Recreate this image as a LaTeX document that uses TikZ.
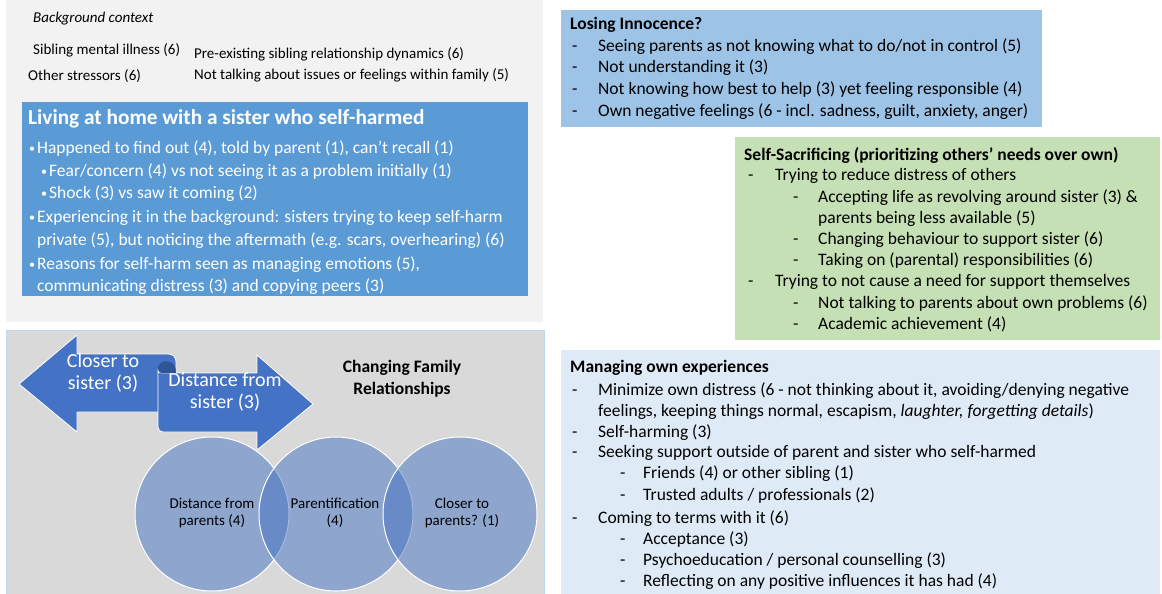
\documentclass[tikz,border=0pt]{standalone}
\usepackage{fontspec}
\setmainfont{Carlito}
\definecolor{panelTop}{HTML}{F2F2F2}
\definecolor{panelLow}{HTML}{D9D9D9}
\definecolor{panelEdge}{HTML}{BDD7EE}
\definecolor{homeBlue}{HTML}{5B9BD5}
\definecolor{loseBlue}{HTML}{9DC3E6}
\definecolor{sacGreen}{HTML}{C5E0B4}
\definecolor{manBlue}{HTML}{DEEBF7}
\definecolor{arrowBlue}{HTML}{4472C4}
\definecolor{foldBlue}{HTML}{2F5597}
\newcommand{\dsh}[1]{\makebox[#1][l]{-}}
\newcommand{\bul}{\makebox[8pt][l]{\raisebox{0.5pt}{\fontsize{12}{12}\selectfont\textbullet}}}
\begin{document}
\begin{tikzpicture}[x=1pt,y=-1pt,
  body/.style={anchor=base west, inner sep=0pt, font=\fontsize{17.5}{20}\selectfont},
  head/.style={anchor=base west, inner sep=0pt, font=\bfseries\fontsize{17.5}{20}\selectfont},
  ctx/.style={anchor=base west, inner sep=0pt, font=\fontsize{15}{18}\selectfont},
  hometxt/.style={body, text=white},
  arrowtxt/.style={align=center, text=white, inner sep=0pt, font=\fontsize{20}{22}\selectfont},
  venn/.style={circle, minimum size=154pt, inner sep=0pt, fill=arrowBlue, fill opacity=0.5, draw=white, draw opacity=1, line width=1pt},
  venntxt/.style={align=center, inner sep=0pt, font=\fontsize{15}{17}\selectfont},
  arrowshape/.style={fill=arrowBlue, draw=white, line width=0.8pt, line join=round}
]
\useasboundingbox (0,0) rectangle (1162,594);
\fill[white] (0,0) rectangle (1162,594);

% ---------- background context panel ----------
\fill[panelTop] (6,0) rectangle (543,322);
\node[anchor=base west, inner sep=0pt, font=\itshape\fontsize{15}{18}\selectfont] (bgc) at (33,23) {Background context};
\node[ctx] (bg1) at (33,55) {Sibling mental illness (6)};
\node[ctx] (bg2) at (194,59) {Pre-existing sibling relationship dynamics (6)};
\node[ctx] (bg3) at (28,81) {Other stressors (6)};
\node[ctx] (bg4) at (194,80) {Not talking about issues or feelings within family (5)};

% ---------- living at home box ----------
\fill[homeBlue] (22,102) rectangle (528,296);
\node[anchor=base west, inner sep=0pt, text=white, font=\bfseries\fontsize{21.3}{24}\selectfont] (hometitle) at (28,124) {Living at home with a sister who self-harmed};
\node[hometxt] (h1) at (29,153) {\bul Happened to find out (4), told by parent (1), can’t recall (1)};
\node[hometxt] (h2) at (41,176) {\bul Fear/concern (4) vs not seeing it as a problem initially (1)};
\node[hometxt] (h3) at (41,198) {\bul Shock (3) vs saw it coming (2)};
\node[hometxt] (h4) at (29,222) {\bul Experiencing it in the background: sisters trying to keep self-harm};
\node[hometxt] (h5) at (37,245) {private (5), but noticing the aftermath (e.g. scars, overhearing) (6)};
\node[hometxt] (h6) at (29,269) {\bul Reasons for self-harm seen as managing emotions (5),};
\node[hometxt] (h7) at (37,291) {communicating distress (3) and copying peers (3)};

% ---------- changing family relationships panel ----------
\filldraw[fill=panelLow, draw=panelEdge, line width=1pt] (6,330) rectangle (544,594);

\node[venn] (c1) at (212,514) {};
\node[venn] (c2) at (336,514) {};
\node[venn] (c3) at (460,514) {};
\node[venntxt] (t1) at (212,513) {Distance from\\parents (4)};
\node[venntxt] (t2) at (335,513) {Parentification\\(4)};
\node[venntxt] (t3) at (462,513) {Closer to\\parents? (1)};

% opposing ribbon arrows
\draw[arrowshape] (19,384) -- (77,335) -- (77,354) -- (168,354)
  .. controls (173,354) and (176,357) .. (176,362) -- (176,412)
  -- (77,412) -- (77,432) -- cycle;
\draw[arrowshape] (162,373) -- (257,373) -- (257,355) -- (313,404) -- (257,450)
  -- (257,432) -- (163,432) .. controls (160,432) and (158,430) .. (158,427)
  -- (158,369) .. controls (158,373) and (160,373) .. (162,373);
\fill[foldBlue] (158,369) .. controls (158,362) and (164,360) .. (170,362)
  .. controls (173,363) and (176,366) .. (176,373) -- (162,373)
  .. controls (160,373) and (158,372) .. (158,369) -- cycle;
\node[arrowtxt] (a1) at (103,373) {Closer to\\sister (3)};
\node[arrowtxt] (a2) at (225,392) {Distance from\\sister (3)};
\node[align=center, inner sep=0pt, font=\bfseries\fontsize{17.5}{22}\selectfont] (cfr) at (402,379) {Changing Family\\Relationships};

% ---------- losing innocence ----------
\fill[loseBlue] (561,10) rectangle (1042,127);
\node[head] (li0) at (570,30) {Losing Innocence?};
\node[body] (li1) at (572,52) {\dsh{26pt}Seeing parents as not knowing what to do/not in control (5)};
\node[body] (li2) at (572,73) {\dsh{26pt}Not understanding it (3)};
\node[body] (li3) at (572,95) {\dsh{26pt}Not knowing how best to help (3) yet feeling responsible (4)};
\node[body] (li4) at (572,116) {\dsh{26pt}Own negative feelings (6 - incl. sadness, guilt, anxiety, anger)};

% ---------- self-sacrificing ----------
\fill[sacGreen] (735,137) rectangle (1160,340);
\node[head] (ss0) at (744,160) {Self-Sacrificing (prioritizing others’ needs over own)};
\node[body] (ss1) at (748,180) {\dsh{27pt}Trying to reduce distress of others};
\node[body] (ss2) at (793,202) {\dsh{25pt}Accepting life as revolving around sister (3) \&};
\node[body] (ss3) at (818,223) {parents being less available (5)};
\node[body] (ss4) at (793,244) {\dsh{25pt}Changing behaviour to support sister (6)};
\node[body] (ss5) at (793,265) {\dsh{25pt}Taking on (parental) responsibilities (6)};
\node[body] (ss6) at (748,286) {\dsh{27pt}Trying to not cause a need for support themselves};
\node[body] (ss7) at (793,308) {\dsh{25pt}Not talking to parents about own problems (6)};
\node[body] (ss8) at (793,329) {\dsh{25pt}Academic achievement (4)};

% ---------- managing own experiences ----------
\fill[manBlue] (561,350) rectangle (1160,594);
\node[head] (mo0) at (570,372) {Managing own experiences};
\node[body] (mo1) at (572,395) {\dsh{26pt}Minimize own distress (6 - not thinking about it, avoiding/denying negative};
\node[body] (mo2) at (598,416) {feelings, keeping things normal, escapism, \textit{laughter, forgetting details})};
\node[body] (mo3) at (572,437) {\dsh{26pt}Self-harming (3)};
\node[body] (mo4) at (572,457) {\dsh{26pt}Seeking support outside of parent and sister who self-harmed};
\node[body] (mo5) at (620,478) {\dsh{23pt}Friends (4) or other sibling (1)};
\node[body] (mo6) at (620,500) {\dsh{23pt}Trusted adults / professionals (2)};
\node[body] (mo7) at (572,523) {\dsh{26pt}Coming to terms with it (6)};
\node[body] (mo8) at (620,544) {\dsh{23pt}Acceptance (3)};
\node[body] (mo9) at (620,565) {\dsh{23pt}Psychoeducation / personal counselling (3)};
\node[body] (mo10) at (620,586) {\dsh{23pt}Reflecting on any positive influences it has had (4)};
\end{tikzpicture}
\end{document}
